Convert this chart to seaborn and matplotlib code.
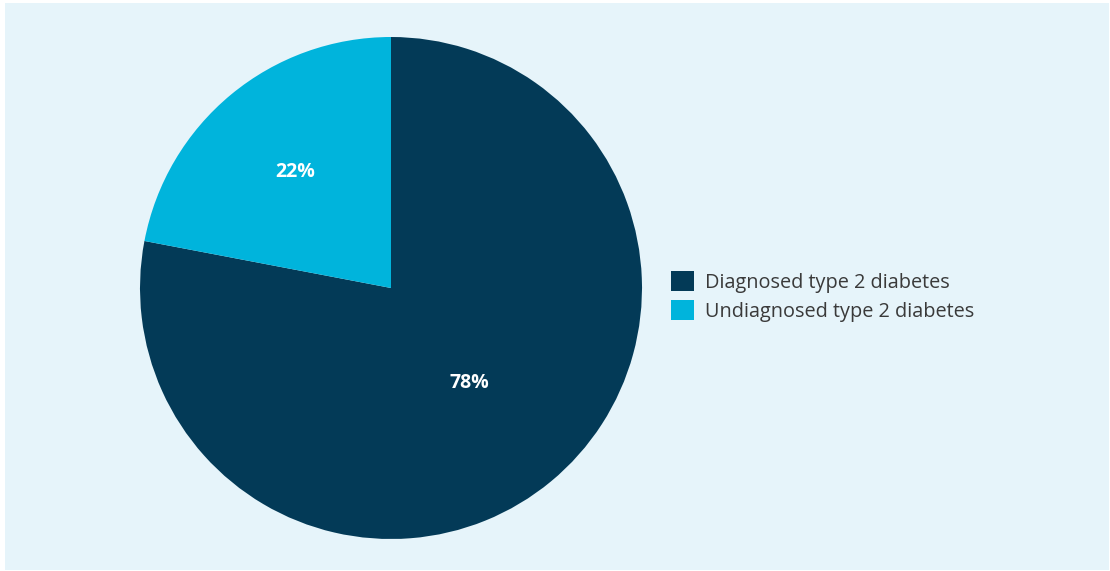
import numpy as np
import matplotlib.pyplot as plt
import seaborn as sns
from matplotlib.patches import Rectangle

# Datos del gráfico
labels = ["Diagnosed type 2 diabetes", "Undiagnosed type 2 diabetes"]
values = [78, 22]
colors = ["#033A57", "#00B4DC"]
pct_dist = [0.49, 0.60]

sns.set_style("white")
plt.rcParams["font.family"] = ["Open Sans", "DejaVu Sans"]

W, H = 1110, 571
fig = plt.figure(figsize=(W / 100, H / 100), dpi=100, facecolor="white")

# fondo azul claro
fig.patches.append(Rectangle((5 / W, 1 / H), 1104 / W, 567 / H, transform=fig.transFigure,
                             facecolor="#E6F4FA", edgecolor="none", zorder=-10))

ax = fig.add_axes([140 / W, 32 / H, 502 / W, 502 / H])
ax.set_facecolor("none")
ax.set_zorder(2)
wedges, _ = ax.pie(values, colors=colors, startangle=90, counterclock=False,
                   wedgeprops=dict(linewidth=0))
ax.set_xlim(-1, 1)
ax.set_ylim(-1, 1)
ax.set_aspect("equal")

# etiquetas de porcentaje
for w, v, d in zip(wedges, values, pct_dist):
    ang = np.deg2rad((w.theta1 + w.theta2) / 2)
    ax.text(d * np.cos(ang), d * np.sin(ang), f"{v}%", color="white",
            fontsize=14, fontweight="bold", ha="center", va="center")

ax.legend(wedges, labels, loc="center left", bbox_to_anchor=(663 / W, 274.5 / H),
          bbox_transform=fig.transFigure, frameon=False, fontsize=14.3,
          borderaxespad=0, handlelength=1.16, handleheight=1.16, handletextpad=0.55,
          labelspacing=0.35, labelcolor="#3a3a3a")

fig.savefig("out.png", dpi=100, facecolor="white")
